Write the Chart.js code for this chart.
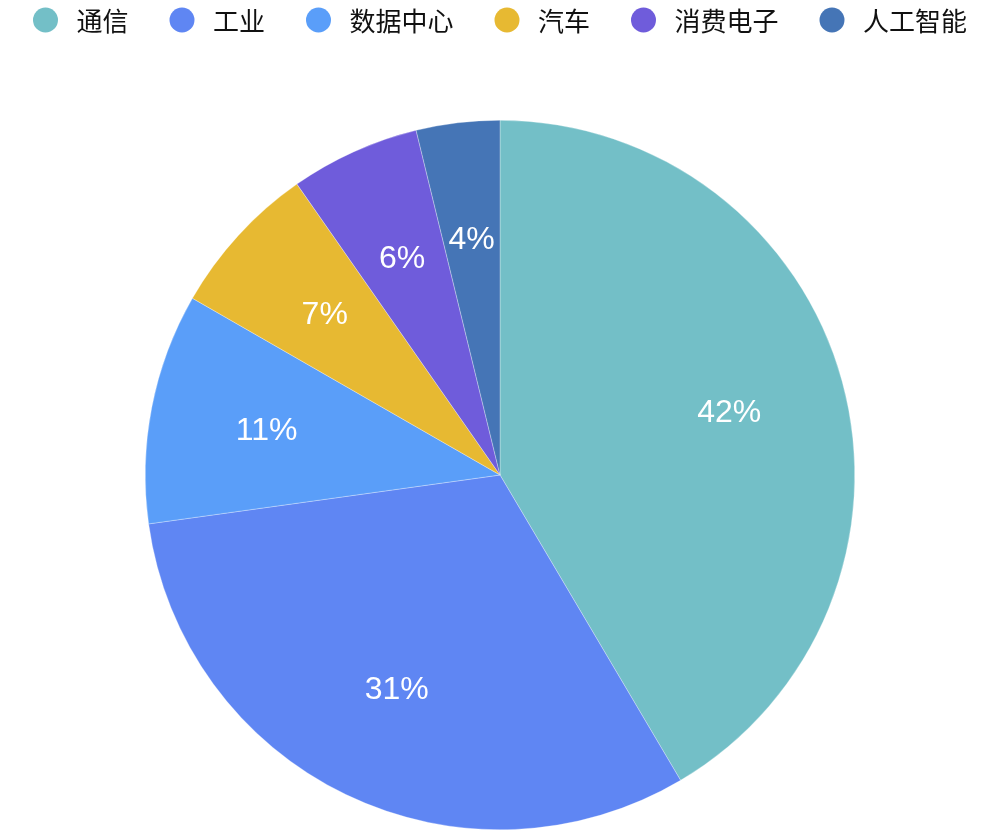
<!DOCTYPE html>
<html>
<head>
<meta charset="utf-8">
<script src="https://cdn.jsdelivr.net/npm/chart.js@4.4.1/dist/chart.umd.min.js"></script>
<style>
  html, body { margin: 0; padding: 0; background: #fff; }
  #wrap { width: 1000px; height: 833px; }
</style>
</head>
<body>
<div id="wrap"><canvas id="pie"></canvas></div>
<script>
// sector names and shares (percent)
const sectors = ['通信', '工业', '数据中心', '汽车', '消费电子', '人工智能'];
const shares = [41.5, 31.3, 10.5, 7.0, 5.9, 3.8];
const colors = ['#73BFC7', '#5F86F3', '#5A9EF9', '#E7B932', '#6F5CDB', '#4575B6'];

const legendFont = '26px "Noto Sans CJK SC", "Noto Sans", sans-serif';

// legend row across the top, drawn from the same arrays
const topLegend = {
    id: 'topLegend',
    afterDraw(chart) {
        const ctx = chart.ctx;
        const r = 12.5, gap = 31, pad = 41;
        ctx.save();
        ctx.font = legendFont;
        ctx.textBaseline = 'middle';
        ctx.textAlign = 'left';
        const widths = sectors.map(s => ctx.measureText(s).width);
        const total = widths.reduce((a, w) => a + r + gap + w, 0) + pad * (sectors.length - 1);
        let x = (chart.width - total) / 2;
        const y = 20;
        sectors.forEach((s, i) => {
            ctx.fillStyle = colors[i];
            ctx.beginPath();
            ctx.arc(x + r, y, r, 0, Math.PI * 2);
            ctx.fill();
            ctx.fillStyle = '#111';
            ctx.fillText(s, x + r + gap, y + 1);
            x += r + gap + widths[i] + pad;
        });
        ctx.restore();
    }
};

// percentage labels inside each slice
const sliceLabels = {
    id: 'sliceLabels',
    afterDatasetsDraw(chart) {
        const ctx = chart.ctx;
        const meta = chart.getDatasetMeta(0);
        const sum = shares.reduce((a, b) => a + b, 0);
        ctx.save();
        ctx.font = '32px "Liberation Sans", Arial, sans-serif';
        ctx.fillStyle = '#fff';
        ctx.textAlign = 'center';
        ctx.textBaseline = 'middle';
        meta.data.forEach((arc, i) => {
            const p = arc.getProps(['startAngle', 'endAngle', 'outerRadius', 'x', 'y'], true);
            const mid = (p.startAngle + p.endAngle) / 2;
            const d = p.outerRadius * 0.67;
            const pct = Math.round(shares[i] / sum * 100) + '%';
            ctx.fillText(pct, p.x + Math.cos(mid) * d, p.y + Math.sin(mid) * d + 1);
        });
        ctx.restore();
    }
};

new Chart(document.getElementById('pie'), {
    type: 'pie',
    data: {
        labels: sectors,
        datasets: [{
            data: shares,
            backgroundColor: colors,
            borderColor: 'rgba(255,255,255,0.6)',
            borderWidth: 0.5
        }]
    },
    options: {
        responsive: true,
        maintainAspectRatio: false,
        animation: false,
        layout: { padding: { top: 120, bottom: 3 } },
        plugins: {
            legend: { display: false },
            tooltip: { enabled: false }
        }
    },
    plugins: [sliceLabels, topLegend]
});
</script>
</body>
</html>
